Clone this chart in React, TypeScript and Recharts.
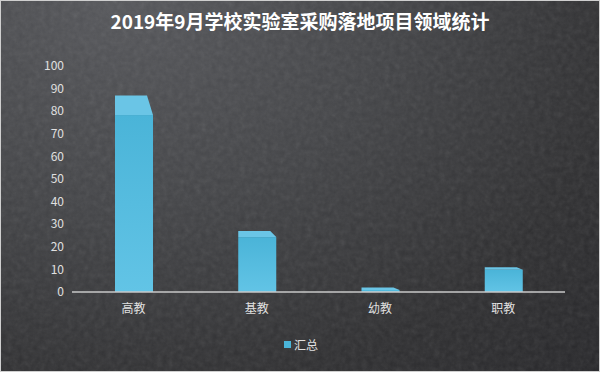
import React from 'react';
import { BarChart, Bar, XAxis, YAxis } from 'recharts';

const categories = ['高教', '基教', '幼教', '职教'];
const totals = [87, 27, 2, 11];
const yTicks = [0, 10, 20, 30, 40, 50, 60, 70, 80, 90, 100];

const chartData = categories.map((name, i) => ({ name, total: totals[i] }));

// 3D-looking column: lighter top face above a gradient front face
const Column3D = (props: any) => {
  const { x, y, width, height } = props;
  if (!height || height <= 0) return null;
  const depth = Math.max(2.5, height * 0.1);
  const shift = 6;
  return (
    <g>
      <rect x={x} y={y + depth} width={width} height={height - depth} fill="url(#frontGrad)" />
      <polygon
        points={`${x},${y} ${x + width - shift},${y} ${x + width},${y + depth} ${x},${y + depth}`}
        fill="#6ac5e6"
      />
    </g>
  );
};

export default function App() {
  return (
    <div
      style={{
        position: 'absolute',
        left: 0,
        top: 0,
        width: 598,
        height: 370,
        border: '1px solid #cfcfcf',
        background:
          'radial-gradient(ellipse at 20% 0%, #56575b 0%, #434447 40%, #2f2f31 75%, #27272a 100%)',
        fontFamily: '"Noto Sans CJK SC", "Noto Sans", sans-serif',
        overflow: 'hidden',
      }}
    >
      <svg width={598} height={370} style={{ position: 'absolute', left: 0, top: 0, opacity: 0.12 }}>
        <filter id="leather">
          <feTurbulence type="fractalNoise" baseFrequency="0.18" numOctaves={3} seed={4} />
          <feColorMatrix type="saturate" values="0" />
        </filter>
        <rect width="100%" height="100%" filter="url(#leather)" />
      </svg>
      <div
        style={{
          position: 'absolute',
          top: 6,
          width: '100%',
          textAlign: 'center',
          color: '#ffffff',
          fontSize: 19,
          fontWeight: 'bold',
        }}
      >
        2019年9月学校实验室采购落地项目领域统计
      </div>
      <div style={{ position: 'absolute', left: -1, top: -1 }}>
        <BarChart
          width={600}
          height={372}
          data={chartData}
          margin={{ top: 66, right: 35, bottom: 50, left: 0 }}
        >
          <defs>
            <linearGradient id="frontGrad" x1="0" y1="0" x2="0" y2="1">
              <stop offset="0%" stopColor="#4ab4d8" />
              <stop offset="100%" stopColor="#62c4e6" />
            </linearGradient>
          </defs>
          <XAxis
            dataKey="name"
            height={30}
            tickLine={false}
            axisLine={{ stroke: '#c8c8c8', strokeWidth: 1.5 }}
            tick={{ fill: '#e0e0e0', fontSize: 12 }}
            tickMargin={6}
          />
          <YAxis
            width={72}
            domain={[0, 100]}
            ticks={yTicks}
            interval={0}
            axisLine={false}
            tickLine={false}
            tickSize={0}
            tickMargin={8}
            tick={{ fill: '#e0e0e0', fontSize: 12 }}
          />
          <Bar dataKey="total" barSize={38} shape={<Column3D />} isAnimationActive={false} />
        </BarChart>
      </div>
      <div
        style={{
          position: 'absolute',
          left: 283,
          top: 335,
          display: 'flex',
          alignItems: 'center',
          color: '#e0e0e0',
          fontSize: 12,
        }}
      >
        <span style={{ width: 7, height: 7, background: '#4ab4d8', marginRight: 3, display: 'inline-block' }} />
        汇总
      </div>
    </div>
  );
}
